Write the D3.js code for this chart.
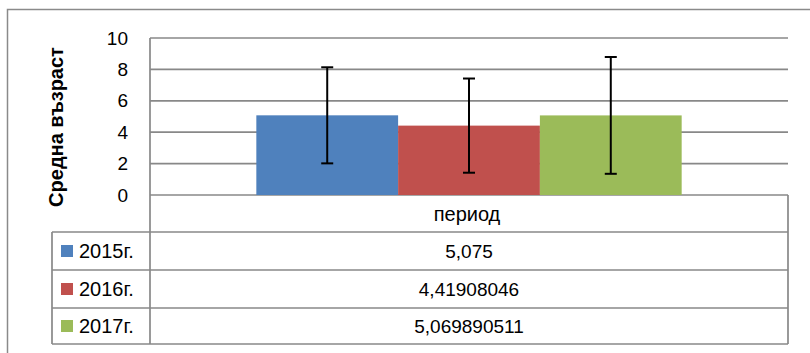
<!DOCTYPE html>
<html><head><meta charset="utf-8">
<script src="https://cdn.jsdelivr.net/npm/d3@7"></script>
<style>
html,body{margin:0;padding:0;background:#fff;}
svg{display:block;font-family:"Liberation Sans",Arial,sans-serif;}
</style></head>
<body>
<svg id="chart" width="810" height="353"></svg>
<script>
const categories = ["период"];
const series = ["2015г.", "2016г.", "2017г."];
const values = [5.075, 4.41908046, 5.069890511];
const errors = [3.06, 3.0, 3.72];
const valueLabels = ["5,075", "4,41908046", "5,069890511"];
const colors = ["#4F81BD", "#C0504D", "#9BBB59"];
const yTicks = [0, 2, 4, 6, 8, 10];
const yTitle = "Средна възраст";

const svg = d3.select("#chart");
const gridColor = "#888888";
const plot = {left: 150, right: 788, top: 38, bottom: 195};
const table = {left: 52, rowH: [37, 38, 38, 36]};

// outer chart border
svg.append("rect").attr("x", 7.5).attr("y", 9.5).attr("width", 820).attr("height", 360)
  .attr("fill", "none").attr("stroke", "#8a8a8a").attr("stroke-width", 1.5);

const y = d3.scaleLinear().domain([0, 10]).range([plot.bottom, plot.top]);
const x0 = d3.scaleBand().domain(categories).range([plot.left, plot.right]).padding(0);
const x1 = d3.scaleBand().domain(series).range([0, x0.bandwidth()]).paddingInner(0).paddingOuter(0.75);

// gridlines
svg.append("g").selectAll("line").data(yTicks).join("line")
  .attr("x1", plot.left).attr("x2", plot.right)
  .attr("y1", d => y(d)).attr("y2", d => y(d))
  .attr("stroke", gridColor).attr("stroke-width", 1.7);

// y axis labels
const yAxis = d3.axisLeft(y).tickValues(yTicks).tickSize(0).tickPadding(22);
const ga = svg.append("g").attr("transform", `translate(${plot.left},0)`).call(yAxis);
ga.select(".domain").remove();
ga.selectAll("text").attr("font-size", 19).attr("fill", "#000")
  .attr("font-family", "'Liberation Sans',Arial,sans-serif");

// y title
svg.append("text").attr("transform", "translate(63,127) rotate(-90)")
  .attr("text-anchor", "middle").attr("font-size", 20).attr("font-weight", "bold")
  .text(yTitle);

// bars
const gb = svg.append("g");
categories.forEach(cat => {
  const g = gb.append("g").attr("transform", `translate(${x0(cat)},0)`);
  g.selectAll("rect").data(series).join("rect")
    .attr("x", d => x1(d)).attr("width", x1.bandwidth())
    .attr("y", (d, i) => y(values[i])).attr("height", (d, i) => y(0) - y(values[i]))
    .attr("fill", (d, i) => colors[i]);
  // error bars
  const eb = g.selectAll("g.eb").data(series).join("g").attr("class", "eb");
  eb.append("line")
    .attr("x1", d => x1(d) + x1.bandwidth() / 2).attr("x2", d => x1(d) + x1.bandwidth() / 2)
    .attr("y1", (d, i) => y(values[i] + errors[i])).attr("y2", (d, i) => y(values[i] - errors[i]))
    .attr("stroke", "#000").attr("stroke-width", 2);
  ["+", "-"].forEach(s => {
    eb.append("line")
      .attr("x1", d => x1(d) + x1.bandwidth() / 2 - 6).attr("x2", d => x1(d) + x1.bandwidth() / 2 + 6)
      .attr("y1", (d, i) => y(values[i] + (s === "+" ? 1 : -1) * errors[i]))
      .attr("y2", (d, i) => y(values[i] + (s === "+" ? 1 : -1) * errors[i]))
      .attr("stroke", "#000").attr("stroke-width", 2);
  });
});

// data table
const rowTops = [plot.bottom];
table.rowH.forEach(h => rowTops.push(rowTops[rowTops.length - 1] + h));
const tableBottom = rowTops[rowTops.length - 1];
const tg = svg.append("g").attr("stroke", gridColor).attr("stroke-width", 1.7);
// vertical lines
tg.append("line").attr("x1", plot.left).attr("x2", plot.left).attr("y1", plot.top).attr("y2", tableBottom);
tg.append("line").attr("x1", plot.right).attr("x2", plot.right).attr("y1", plot.bottom).attr("y2", tableBottom);
tg.append("line").attr("x1", table.left).attr("x2", table.left).attr("y1", rowTops[1]).attr("y2", tableBottom);
// horizontal lines
rowTops.slice(1).forEach(t => {
  tg.append("line").attr("x1", table.left).attr("x2", plot.right).attr("y1", t).attr("y2", t);
});
// header row text
categories.forEach(cat => {
  svg.append("text").attr("x", x0(cat) + x0.bandwidth() / 2 - 2).attr("y", (rowTops[0] + rowTops[1]) / 2)
    .attr("dy", "0.35em").attr("text-anchor", "middle").attr("font-size", 20).text(cat);
});
// series rows
series.forEach((s, i) => {
  const cy = (rowTops[i + 1] + rowTops[i + 2]) / 2;
  svg.append("rect").attr("x", 61).attr("y", cy - 6).attr("width", 12).attr("height", 12).attr("fill", colors[i]);
  svg.append("text").attr("x", 79).attr("y", cy).attr("dy", "0.35em").attr("font-size", 20).text(s);
  svg.append("text").attr("x", x0(categories[0]) + x0.bandwidth() / 2).attr("y", cy)
    .attr("dy", "0.35em").attr("text-anchor", "middle").attr("font-size", 19).text(valueLabels[i]);
});
</script>
</body></html>
